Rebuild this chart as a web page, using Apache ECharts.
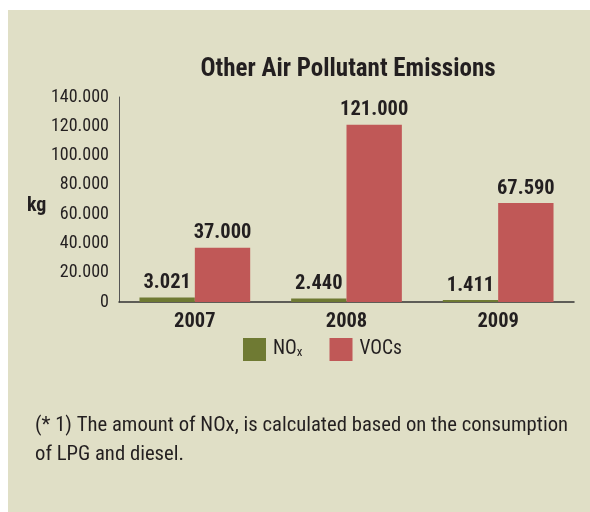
<!DOCTYPE html>
<html><head><meta charset="utf-8">
<script src="https://cdn.jsdelivr.net/npm/echarts@6/dist/echarts.min.js"></script>
<style>
html,body{margin:0;padding:0;background:#fff;}
#bg{position:absolute;left:8px;top:10px;width:582px;height:502px;background:#e0dfc6;}
#c{position:absolute;left:0;top:0;width:590px;height:512px;}
</style></head>
<body><div id="bg"></div><div id="c"></div>
<script>
const categories = ['2007', '2008', '2009'];
const noxValues = [3021, 2440, 1411];
const vocValues = [37000, 121000, 67590];
const seriesNames = ['NOx', 'VOCs'];
const titleText = 'Other Air Pollutant Emissions';
const unitText = 'kg';
const footnoteText = '(* 1) The amount of NOx, is calculated based on the consumption\nof LPG and diesel.';

const FONT = "'Liberation Sans Narrow', 'Roboto Condensed', 'Open Sans', sans-serif";
const DARK = '#231f20';
const fmt = v => v === 0 ? '0' : (v / 1000).toFixed(3);

const chart = echarts.init(document.getElementById('c'));
chart.setOption({
  backgroundColor: 'transparent',
  animation: false,
  title: [
    { text: titleText, left: 343, top: 52, textAlign: 'center',
      textStyle: { fontFamily: FONT, fontSize: 25, fontWeight: 'bold', color: DARK } },
    { text: unitText, left: 22, top: 191,
      textStyle: { fontFamily: FONT, fontSize: 20, fontWeight: 'bold', color: DARK } },
    { text: footnoteText, left: 30, top: 406,
      textStyle: { fontFamily: FONT, fontSize: 20.7, fontWeight: 'normal', color: DARK, lineHeight: 29 } }
  ],
  legend: {
    data: seriesNames,
    left: 243, top: 338, icon: 'rect', padding: 0,
    itemWidth: 23, itemHeight: 23, itemGap: 27,
    formatter: n => n === 'NOx' ? '{a|NO}{b|x}' : '{a|' + n + '}',
    textStyle: { fontFamily: FONT, color: DARK, padding: [0,0,0,2],
      rich: { a: { fontFamily: FONT, fontSize: 19.5, color: DARK }, b: { fontFamily: FONT, fontSize: 13, color: DARK, verticalAlign: 'bottom', padding: [5,0,0,0] } } }
  },
  grid: { left: 119, right: 16, top: 97, bottom: 210 },
  xAxis: {
    type: 'category', data: categories,
    axisLine: { lineStyle: { color: '#333', width: 1.5 } },
    axisTick: { show: false },
    axisLabel: { fontFamily: FONT, fontSize: 20.5, fontWeight: 'bold', color: DARK, margin: 9 }
  },
  yAxis: {
    type: 'value', min: 0, max: 140000, interval: 20000,
    axisLine: { show: true, lineStyle: { color: '#555', width: 1 } },
    axisTick: { show: false },
    splitLine: { show: false },
    axisLabel: { fontFamily: FONT, fontSize: 18, color: DARK, margin: 10, formatter: fmt }
  },
  series: [
    { name: 'NOx', type: 'bar', data: noxValues, barGap: '0%', barCategoryGap: '27%',
      itemStyle: { color: '#6f7a33' },
      label: { show: true, position: 'top', distance: 4, formatter: p => fmt(p.value),
        fontFamily: FONT, fontSize: 20.5, fontWeight: 'bold', color: DARK } },
    { name: 'VOCs', type: 'bar', data: vocValues,
      itemStyle: { color: '#c05857' },
      label: { show: true, position: 'top', distance: 4, formatter: p => fmt(p.value),
        fontFamily: FONT, fontSize: 20.5, fontWeight: 'bold', color: DARK } }
  ]
});
</script></body></html>
